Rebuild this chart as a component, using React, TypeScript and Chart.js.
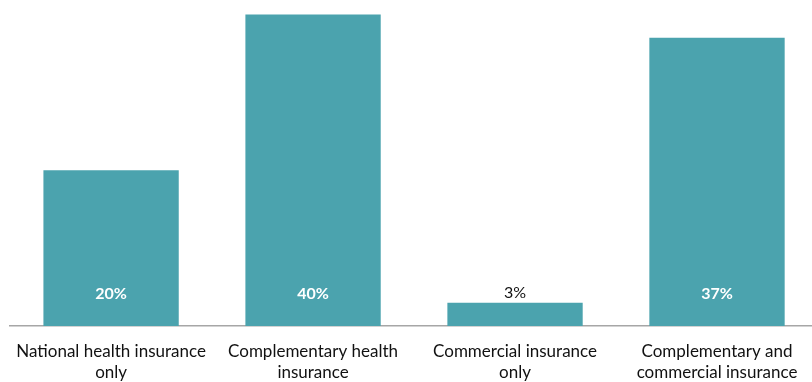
import React, { useEffect, useRef } from "react";
import { Chart, registerables } from "chart.js";

Chart.register(...registerables);

const categories: string[][] = [
  ["National health insurance", "only"],
  ["Complementary health", "insurance"],
  ["Commercial insurance", "only"],
  ["Complementary and", "commercial insurance"],
];
const values: number[] = [20, 40, 3, 37];
const valueLabels: string[] = ["20%", "40%", "3%", "37%"];

const BAR_COLOR = "#4BA3AE";

const labelPlugin = {
  id: "barLabels",
  afterDatasetsDraw(chart: any) {
    const ctx = chart.ctx;
    const meta = chart.getDatasetMeta(0);
    const yScale = chart.scales.y;
    const base = yScale.getPixelForValue(0);
    const labelY = base - 32;
    ctx.save();
    ctx.textAlign = "center";
    ctx.textBaseline = "middle";
    meta.data.forEach((bar: any, i: number) => {
      const inside = bar.y < labelY - 12;
      if (inside) {
        ctx.fillStyle = "#ffffff";
        ctx.font = "bold 16px Lato, 'Open Sans', sans-serif";
        ctx.fillText(valueLabels[i], bar.x, labelY);
      } else {
        ctx.fillStyle = "#111111";
        ctx.font = "16px Lato, 'Open Sans', sans-serif";
        ctx.fillText(valueLabels[i], bar.x, bar.y - 10);
      }
    });
    ctx.restore();
  },
};

export default function App() {
  const ref = useRef<HTMLCanvasElement | null>(null);
  useEffect(() => {
    if (!ref.current) return;
    const chart = new Chart(ref.current, {
      type: "bar",
      data: {
        labels: categories,
        datasets: [
          {
            data: values,
            backgroundColor: BAR_COLOR,
            borderWidth: 0,
            categoryPercentage: 1,
            barPercentage: 0.67,
          },
        ],
      },
      options: {
        animation: false,
        responsive: false,
        maintainAspectRatio: false,
        layout: { padding: { left: 10, right: 0, top: 0, bottom: 0 } },
        plugins: {
          legend: { display: false },
          tooltip: { enabled: false },
        },
        scales: {
          x: {
            grid: { display: false, drawTicks: false },
            border: { display: true, color: "#a6a6a6", width: 1.5 },
            afterFit: (s: any) => {
              s.height = 56;
            },
            ticks: {
              color: "#111111",
              padding: 15,
              autoSkip: false,
              maxRotation: 0,
              font: { family: "Lato, 'Open Sans', sans-serif", size: 17, lineHeight: 1.24 },
            },
          },
          y: {
            display: false,
            min: 0,
            max: 41.85,
          },
        },
      },
      plugins: [labelPlugin],
    });
    return () => chart.destroy();
  }, []);
  return (
    <div
      style={{
        position: "fixed",
        left: 0,
        top: 0,
        width: 812,
        height: 382,
        overflow: "hidden",
        background: "#fff",
      }}
    >
      <canvas ref={ref} width={818} height={382} style={{ display: "block" }} />
    </div>
  );
}
